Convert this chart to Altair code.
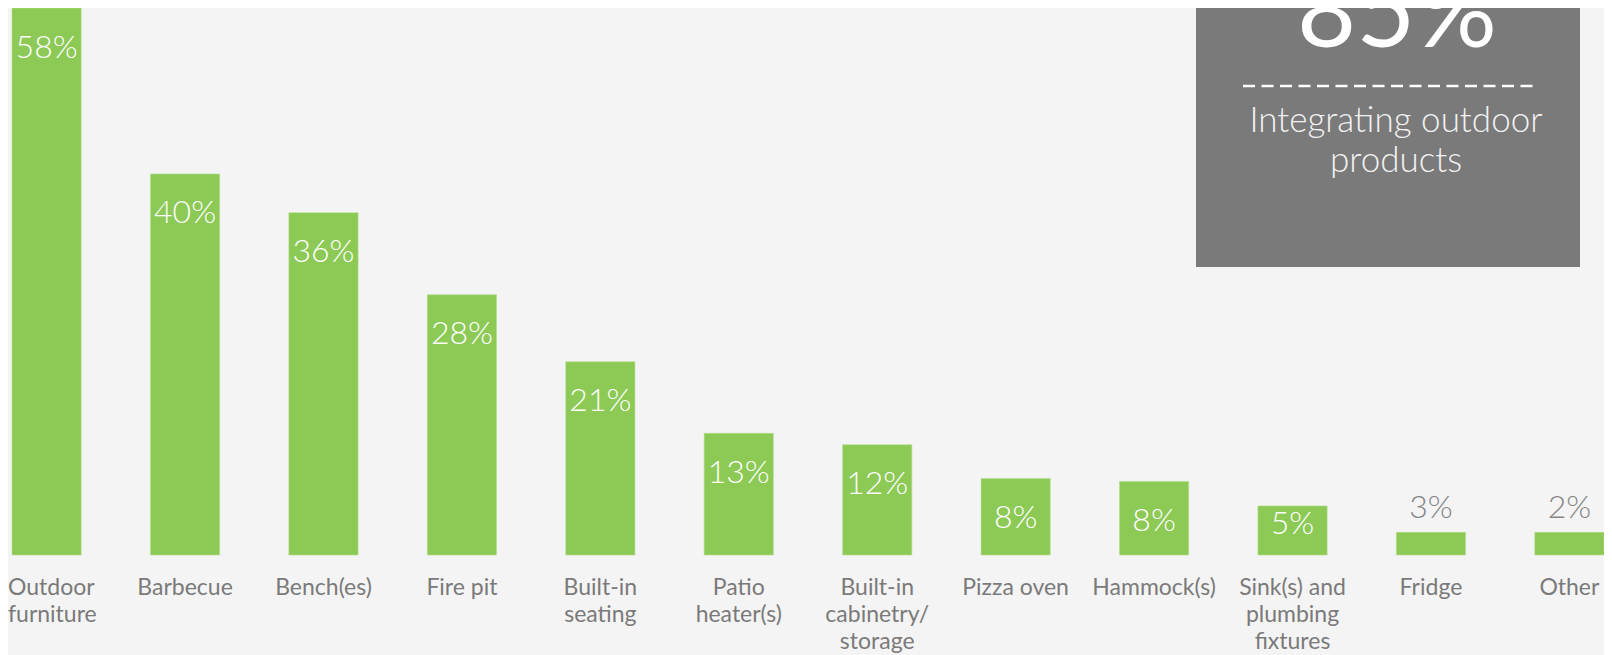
import altair as alt
import pandas as pd

# ---- data ----
categories = [
    "Outdoor\nfurniture", "Barbecue", "Bench(es)", "Fire pit", "Built-in\nseating",
    "Patio\nheater(s)", "Built-in\ncabinetry/\nstorage", "Pizza oven", "Hammock(s)",
    "Sink(s) and\nplumbing\nfixtures", "Fridge", "Other",
]
values = [58, 40.4, 36.3, 27.6, 20.5, 12.9, 11.7, 8.1, 7.8, 5.2, 2.4, 2.4]
value_labels = ["58%", "40%", "36%", "28%", "21%", "13%", "12%", "8%", "8%", "5%", "3%", "2%"]

callout_value = "85%"
callout_text = "Integrating outdoor\nproducts"

df = pd.DataFrame({"cat": categories, "v": values, "lab": value_labels})
note = pd.DataFrame({"big": [callout_value], "txt": [callout_text]})

GREEN = "#8cc955"
BG = "#f4f4f4"
FONT = "Lato"
first = categories[0]

x = alt.X("cat:N", sort=categories, axis=None,
          scale=alt.Scale(range=[4, 1596], paddingInner=0.5, paddingOuter=0))
y_scale = alt.Scale(domain=[0, 58], range=[547, 0], nice=False, zero=True)

base = alt.Chart(df)

bars = base.mark_bar(color=GREEN, stroke="#b5df8f", strokeWidth=0.6).encode(
    x=x, y=alt.Y("v:Q", scale=y_scale, axis=None)
)

inside = base.transform_filter("datum.v >= 4").transform_calculate(
    ly="max(datum.v - 5.25, 2.23)"
).mark_text(
    font=FONT, fontSize=32, fontWeight=300, color="#ffffff", baseline="alphabetic"
).encode(x=x, y=alt.Y("ly:Q", scale=y_scale, axis=None), text="lab:N")

outside = base.transform_filter("datum.v < 4").mark_text(
    font=FONT, fontSize=32, fontWeight=300, color="#858585", baseline="alphabetic", dy=-14
).encode(x=x, y=alt.Y("v:Q", scale=y_scale, axis=None), text="lab:N")

label_style = dict(font=FONT, fontSize=23, fontWeight=400, color="#7a7a7a",
                   baseline="alphabetic", lineBreak="\n", lineHeight=27)

cat_labels = base.transform_filter(alt.datum.cat != first).mark_text(
    align="center", **label_style
).encode(x=x, y=alt.value(587), text="cat:N")

first_label = base.transform_filter(alt.datum.cat == first).mark_text(
    align="left", **label_style
).encode(x=alt.value(0), y=alt.value(587), text="cat:N")

nb = alt.Chart(note)
box = nb.mark_rect(color="#7a7a7a").encode(
    x=alt.value(1188), x2=alt.value(1572), y=alt.value(-20), y2=alt.value(259)
)
big = nb.mark_text(
    font=FONT, fontSize=102, fontWeight=400, color="#ffffff", baseline="alphabetic", align="center"
).encode(x=alt.value(1389), y=alt.value(39), text="big:N")
dash = nb.mark_rule(color="#ffffff", strokeWidth=2.5, strokeDash=[12, 6.5]).encode(
    x=alt.value(1235), x2=alt.value(1527), y=alt.value(78)
)
sub = nb.mark_text(
    font=FONT, fontSize=35, fontWeight=300, color="#f2f2f2", baseline="alphabetic",
    align="center", lineBreak="\n", lineHeight=40
).encode(x=alt.value(1388), y=alt.value(124), text="txt:N")

chart = alt.layer(bars, inside, outside, cat_labels, first_label, box, big, dash, sub).properties(
    width=1596, height=647,
    autosize=alt.AutoSizeParams(type="none"),
    padding=0,
    background=BG,
).configure_view(stroke=None)

chart.save("out.html", embed_options={"renderer": "svg", "actions": False})
